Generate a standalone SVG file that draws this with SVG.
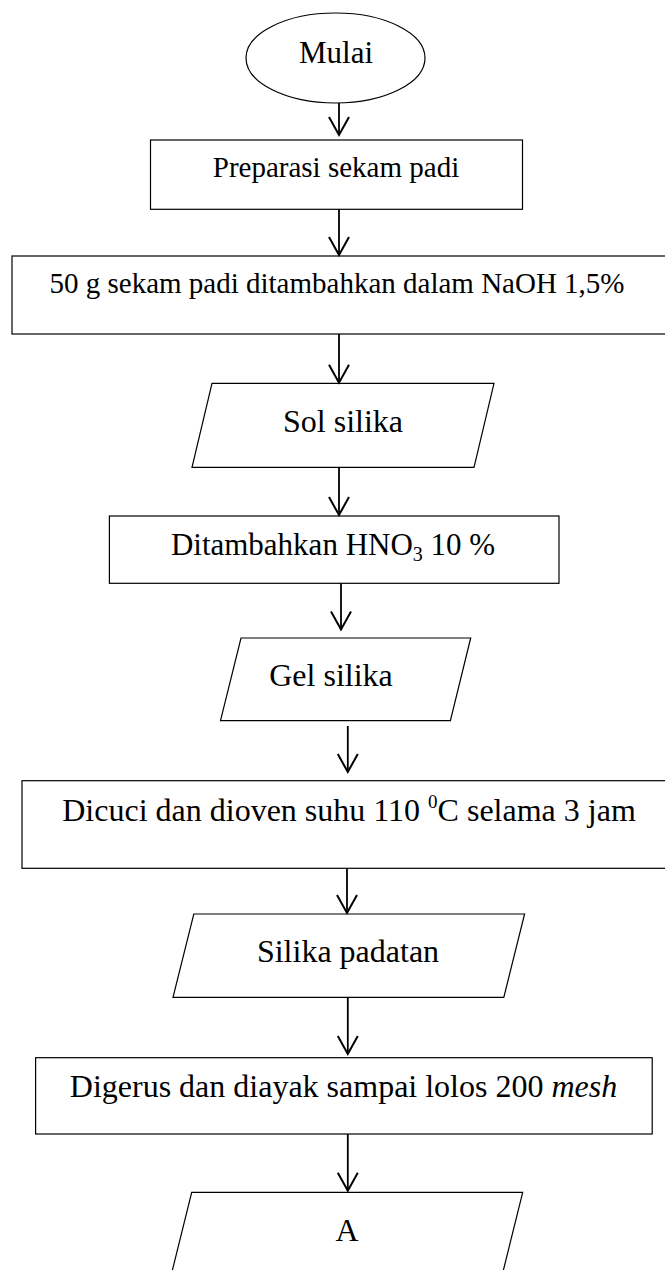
<svg xmlns="http://www.w3.org/2000/svg" width="665" height="1270" viewBox="0 0 665 1270">
<style>
.shape{fill:#fff;stroke:#000;stroke-width:1.2}
.t{font-family:"Liberation Serif","Times New Roman",serif;fill:#000;text-anchor:middle}
.s29{font-size:29px}
.s31{font-size:31px}
.s32{font-size:32px}
.conn line{stroke:#000;stroke-width:1.8;marker-end:url(#arr)}
</style>
<defs>
<marker id="arr" markerUnits="userSpaceOnUse" markerWidth="24" markerHeight="24" refX="18" refY="10" orient="auto" overflow="visible">
<path d="M0,0 L18,10 L0,20" fill="none" stroke="#000" stroke-width="2"/>
</marker>
</defs>
<rect width="665" height="1270" fill="#fff"/>
<g id="n-mulai">
<ellipse class="shape" cx="335.5" cy="58" rx="89.5" ry="45"/>
<text class="t s31" x="336" y="63">Mulai</text>
</g>
<g id="n-preparasi">
<rect class="shape" x="150.5" y="140" width="372" height="69.3"/>
<text class="t s29" x="336" y="177">Preparasi sekam padi</text>
</g>
<g id="n-naoh">
<rect class="shape" x="12" y="256" width="670" height="78"/>
<text class="t s29" x="337" y="293">50 g sekam padi ditambahkan dalam NaOH 1,5%</text>
</g>
<g id="n-sol">
<polygon class="shape" points="212,383.3 494,383.3 474,467.3 192,467.3"/>
<text class="t s32" x="343" y="432">Sol silika</text>
</g>
<g id="n-hno3">
<rect class="shape" x="109.4" y="516" width="449.6" height="67.3"/>
<text class="t s31" x="333" y="555">Ditambahkan HNO<tspan font-size="20" dy="6">3</tspan><tspan dy="-6"> 10 %</tspan></text>
</g>
<g id="n-gel">
<polygon class="shape" points="241,638 470.7,638 450.4,720.7 220.5,720.7"/>
<text class="t s32" x="331" y="686">Gel silika</text>
</g>
<g id="n-dicuci">
<rect class="shape" x="22" y="780.7" width="660" height="87.6"/>
<text class="t s32" x="349" y="821">Dicuci dan dioven suhu 110 <tspan font-size="19" dy="-13">0</tspan><tspan dy="13">C selama 3 jam</tspan></text>
</g>
<g id="n-padatan">
<polygon class="shape" points="193.8,914 524.6,914 503.8,997.3 173,997.3"/>
<text class="t s32" x="348" y="962">Silika padatan</text>
</g>
<g id="n-digerus">
<rect class="shape" x="35.6" y="1057.7" width="616.6" height="76.3"/>
<text class="t s32" x="343.5" y="1097">Digerus dan diayak sampai lolos 200 <tspan font-style="italic">mesh</tspan></text>
</g>
<g id="n-a">
<polygon class="shape" points="191.7,1192.3 522.7,1192.3 501.7,1277 170.7,1277"/>
<text class="t s32" x="347" y="1241">A</text>
</g>
<g id="connectors" class="conn">
<line x1="339" y1="103" x2="339" y2="135"/>
<line x1="339" y1="209.3" x2="339" y2="255"/>
<line x1="339" y1="334" x2="339" y2="382.7"/>
<line x1="339" y1="467.3" x2="339" y2="515"/>
<line x1="341" y1="583.3" x2="341" y2="629.5"/>
<line x1="347.8" y1="726" x2="347.8" y2="772"/>
<line x1="347" y1="868.3" x2="347" y2="913"/>
<line x1="347.8" y1="997.3" x2="347.8" y2="1054"/>
<line x1="347.8" y1="1134" x2="347.8" y2="1190.7"/>
</g>
</svg>
